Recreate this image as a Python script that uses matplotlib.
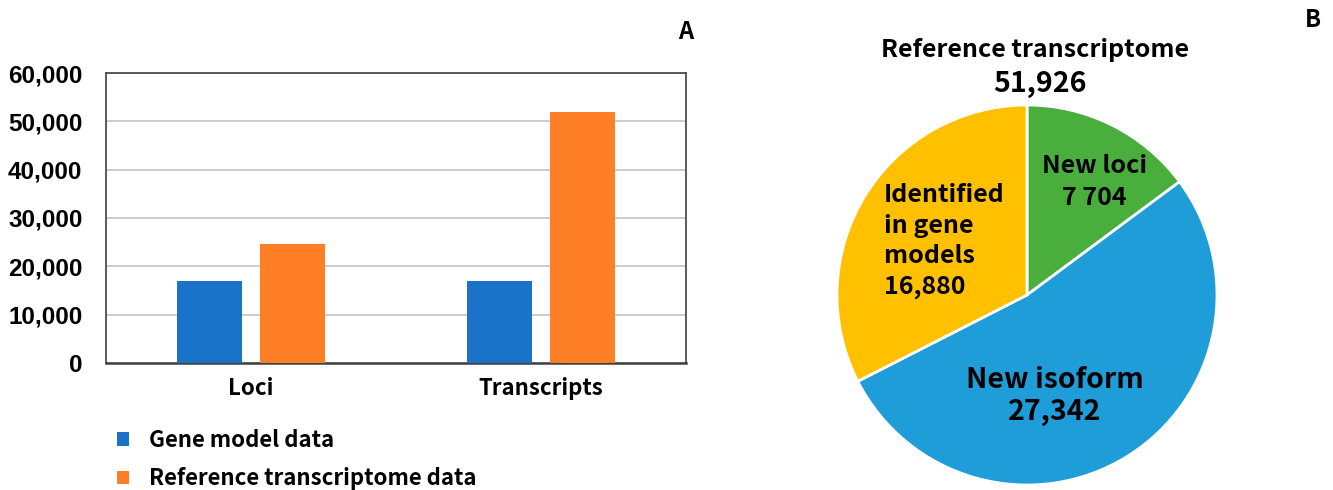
import numpy as np
import matplotlib
matplotlib.use('Agg')
import matplotlib.pyplot as plt

plt.rcParams['font.family'] = ['Noto Sans CJK JP', 'DejaVu Sans']

# Bar chart data
categories = ['Loci', 'Transcripts']
gene_model = [16880, 16880]
reference = [24584, 51926]
series_names = ['Gene model data', 'Reference transcriptome data']
yticks = [0, 10000, 20000, 30000, 40000, 50000, 60000]

# Pie chart data (clockwise from 12 o'clock)
pie_values = [7704, 27342, 16880]
pie_texts = ['New loci\n7 704', 'New isoform\n27,342', 'Identified\nin gene\nmodels\n16,880']
pie_total = 51926

bar_blue = '#1a72c9'
bar_orange = '#ff7f27'
pie_colors = ['#4aae3c', '#1f9dd9', '#ffc000']

fig = plt.figure(figsize=(13.33, 4.9), dpi=100)

# ---- A: bar chart ----
ax = fig.add_axes([106/1333, 1-363/490, 580/1333, 290/490])
x = np.arange(len(categories))
w = 0.224
off = 0.143
ax.bar(x - off, gene_model, w, color=bar_blue, label=series_names[0], zorder=3)
ax.bar(x + off, reference, w, color=bar_orange, label=series_names[1], zorder=3)
ax.set_xlim(-0.5, 1.5)
ax.set_ylim(0, 60000)
ax.set_yticks(yticks)
ax.set_yticklabels(['{:,}'.format(v) for v in yticks],
                   fontfamily=['Liberation Sans', 'DejaVu Sans'],
                   fontweight='bold', fontsize=17.5)
ax.set_xticks(x)
ax.set_xticklabels(categories, fontsize=16, fontweight='bold')
ax.tick_params(axis='both', length=0)
ax.tick_params(axis='y', pad=17)
ax.tick_params(axis='x', pad=10)
ax.grid(axis='y', color='#c8c8c8', linewidth=1.3, zorder=0)
for s in ax.spines.values():
    s.set_color('#404040')
    s.set_linewidth(1.2)
ax.spines['bottom'].set_linewidth(1.8)

fig.legend(loc='upper left', bbox_to_anchor=(108/1333, 1-420/490),
           frameon=False, prop=dict(size=16, weight='bold'),
           handlelength=0.55, handleheight=0.55,
           handletextpad=0.9, labelspacing=0.7, borderaxespad=0)

fig.text(686/1333, 1-32/490, 'A', fontsize=17, fontweight='bold',
         ha='center', va='center')

# ---- B: pie chart ----
cx, cy, r = 1027, 295, 190
pax = fig.add_axes([(cx - r)/1333, 1-(cy + r)/490, 2*r/1333, 2*r/490])
wedges, _ = pax.pie(pie_values, colors=pie_colors, startangle=90, counterclock=False,
                    radius=1.0, wedgeprops=dict(edgecolor='white', linewidth=2))
pax.set_xlim(-1, 1)
pax.set_ylim(-1, 1)
pax.set_aspect('equal')
pax.axis('off')

def to_data(px, py):
    return (px - cx) / r, (cy - py) / r

pax.text(*to_data(1094, 182), pie_texts[0], ha='center', va='center',
         fontsize=18, fontweight='bold', linespacing=1.4)
pax.text(*to_data(1055, 396), pie_texts[1], ha='center', va='center',
         fontsize=20.5, fontweight='bold', linespacing=1.2)
pax.text(*to_data(884, 241), pie_texts[2], ha='left', va='center',
         fontsize=18, fontweight='bold', linespacing=1.35)

fig.text(1035/1333, 1-50/490, 'Reference transcriptome', fontsize=18,
         fontweight='bold', ha='center', va='center')
fig.text(1040/1333, 1-84/490, '{:,}'.format(pie_total), fontsize=20.5,
         fontweight='bold', ha='center', va='center')
fig.text(1313/1333, 1-20/490, 'B', fontsize=17, fontweight='bold',
         ha='center', va='center')

fig.savefig('out.png', dpi=100)
